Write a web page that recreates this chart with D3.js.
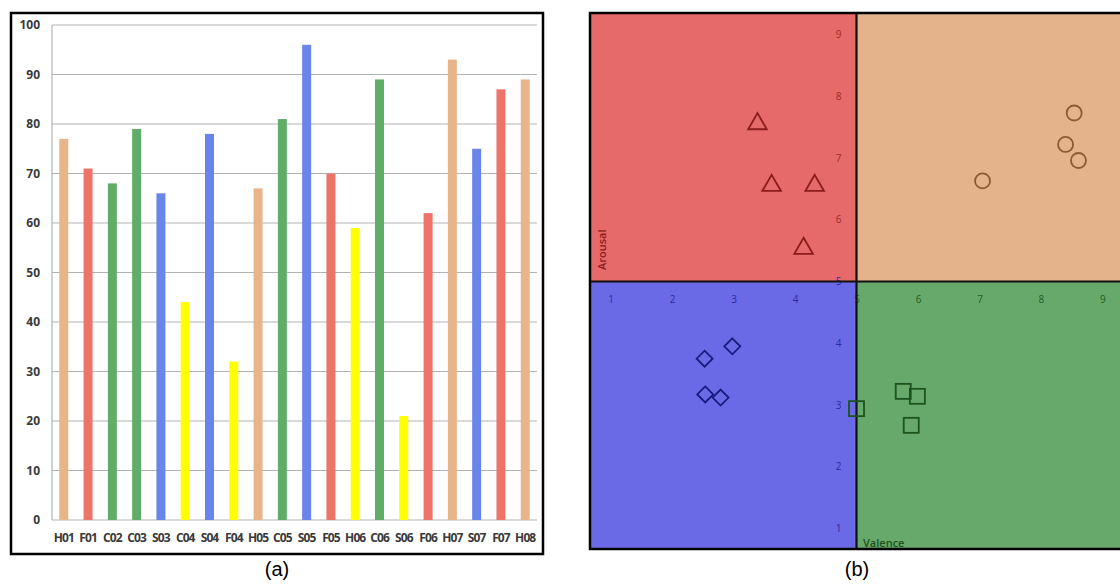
<!DOCTYPE html>
<html>
<head>
<meta charset="utf-8">
<script src="https://cdn.jsdelivr.net/npm/d3@7"></script>
<style>
    body { margin: 0; background: #fff; }
    svg { display: block; }
</style>
</head>
<body>
<div id="my_chart"></div>
<script>
// (a) bar chart data
var participants = ["H01", "F01", "C02", "C03", "S03", "C04", "S04", "F04", "H05", "C05",
    "S05", "F05", "H06", "C06", "S06", "F06", "H07", "S07", "F07", "H08"];
var scores = [77, 71, 68, 79, 66, 44, 78, 32, 67, 81, 96, 70, 59, 89, 21, 62, 93, 75, 87, 89];
var barColors = ["#e8b48a", "#ee746a", "#5fad68", "#5fad68", "#6a85ea", "#ffff00", "#6a85ea", "#ffff00", "#e8b48a", "#5fad68",
    "#6a85ea", "#ee746a", "#ffff00", "#5fad68", "#ffff00", "#ee746a", "#e8b48a", "#6a85ea", "#ee746a", "#e8b48a"];
var yTicksBar = [0, 10, 20, 30, 40, 50, 60, 70, 80, 90, 100];

// (b) valence / arousal points
var triValence = [3.39, 3.62, 4.32, 4.14];
var triArousal = [7.57, 6.57, 6.57, 5.55];
var circValence = [8.54, 8.40, 8.61, 7.05];
var circArousal = [7.73, 7.22, 6.96, 6.63];
var diaValence = [2.98, 2.53, 2.54, 2.79];
var diaArousal = [3.95, 3.75, 3.17, 3.12];
var sqValence = [5.76, 5.99, 5.89, 5.0];
var sqArousal = [3.22, 3.14, 2.67, 2.94];
var vaTicks = [1, 2, 3, 4, 5, 6, 7, 8, 9];

var svg = d3.select("#my_chart")
    .append("svg")
    .attr("width", 1120)
    .attr("height", 584);

drawBars();
drawQuadrants();

svg.append("text").attr("x", 277).attr("y", 576)
    .attr("text-anchor", "middle")
    .style("font-family", "'Liberation Sans', Arial, sans-serif")
    .style("font-size", "20px")
    .text("(a)");
svg.append("text").attr("x", 857).attr("y", 576)
    .attr("text-anchor", "middle")
    .style("font-family", "'Liberation Sans', Arial, sans-serif")
    .style("font-size", "20px")
    .text("(b)");

function drawBars() {
    var xscale = d3.scaleBand()
        .range([52, 537])
        .domain(participants)
        .paddingInner(0.63)
        .paddingOuter(0.3);
    var yscale = d3.scaleLinear()
        .domain([0, 100])
        .range([520, 25]);

    // gridlines
    svg.append("g")
        .selectAll("line")
        .data(yTicksBar)
        .enter()
        .append("line")
        .attr("x1", 52)
        .attr("x2", 537)
        .attr("y1", d => yscale(d))
        .attr("y2", d => yscale(d))
        .attr("stroke", "#b3b3b3")
        .attr("stroke-width", 1.2);

    svg.append("line")
        .attr("x1", 52).attr("x2", 52)
        .attr("y1", yscale(100)).attr("y2", yscale(0))
        .attr("stroke", "#b3b3b3")
        .attr("stroke-width", 1.2);

    var yAxis = svg.append("g")
        .attr("transform", "translate(40,0)")
        .call(d3.axisLeft(yscale).tickValues(yTicksBar).tickSize(0).tickPadding(0));
    yAxis.select(".domain").remove();
    yAxis.selectAll("text")
        .attr("dy", "0.55em")
        .attr("y", -3)
        .style("font-family", "'Open Sans', sans-serif")
        .style("font-weight", "700")
        .style("font-size", "12px")
        .attr("fill", "#3a3a3a");

    svg.append("g")
        .selectAll("rect")
        .data(scores)
        .enter()
        .append("rect")
        .attr("x", (d, i) => xscale(participants[i]))
        .attr("y", d => yscale(d))
        .attr("width", xscale.bandwidth())
        .attr("height", d => yscale(0) - yscale(d))
        .attr("fill", (d, i) => barColors[i]);

    var xAxis = svg.append("g")
        .attr("transform", "translate(0,520)")
        .call(d3.axisBottom(xscale).tickSize(0).tickPadding(13));
    xAxis.select(".domain").remove();
    xAxis.selectAll("text")
        .style("font-family", "'Open Sans', sans-serif")
        .style("font-weight", "700")
        .style("font-size", "12px")
        .style("letter-spacing", "-0.9px")
        .attr("fill", "#3a3a3a");

    // frame
    svg.append("rect")
        .attr("x", 11).attr("y", 13)
        .attr("width", 532).attr("height", 541)
        .attr("fill", "none")
        .attr("stroke", "#000")
        .attr("stroke-width", 2.5);
}

function drawQuadrants() {
    var xs = d3.scaleLinear().domain([0.65, 9.35]).range([589, 1124]);
    var ys = d3.scaleLinear().domain([0.65, 9.35]).range([550, 13]);

    var quads = [
        { x0: 0.65, x1: 5, y0: 5, y1: 9.35, c: "#e56a69" },
        { x0: 5, x1: 9.35, y0: 5, y1: 9.35, c: "#e4b28b" },
        { x0: 0.65, x1: 5, y0: 0.65, y1: 5, c: "#6b6ae6" },
        { x0: 5, x1: 9.35, y0: 0.65, y1: 5, c: "#67a96b" }
    ];
    svg.append("g")
        .selectAll("rect")
        .data(quads)
        .enter()
        .append("rect")
        .attr("x", d => xs(d.x0))
        .attr("y", d => ys(d.y1))
        .attr("width", d => xs(d.x1) - xs(d.x0))
        .attr("height", d => ys(d.y0) - ys(d.y1))
        .attr("fill", d => d.c);

    // tick labels sit on the midlines
    var xAx = svg.append("g")
        .attr("transform", "translate(0," + ys(5) + ")")
        .call(d3.axisBottom(xs).tickValues(vaTicks).tickSize(0).tickPadding(14));
    xAx.select(".domain").remove();
    xAx.selectAll("text")
        .style("font-family", "'Open Sans', sans-serif")
        .style("font-size", "10px")
        .attr("fill", d => d < 5 ? "#2a2a9a" : "#1e5e26");

    var yAx = svg.append("g")
        .attr("transform", "translate(" + xs(5) + ",0)")
        .call(d3.axisLeft(ys).tickValues(vaTicks).tickSize(0).tickPadding(15));
    yAx.select(".domain").remove();
    yAx.selectAll("text")
        .style("font-family", "'Open Sans', sans-serif")
        .style("font-size", "10px")
        .attr("fill", d => d > 5 ? "#9e2a2a" : "#2a2a9a");

    svg.append("line")
        .attr("x1", xs(5)).attr("x2", xs(5))
        .attr("y1", ys(9.35)).attr("y2", ys(0.65))
        .attr("stroke", "#111").attr("stroke-width", 2.2);
    svg.append("line")
        .attr("x1", xs(0.65)).attr("x2", xs(9.35))
        .attr("y1", ys(5)).attr("y2", ys(5))
        .attr("stroke", "#111").attr("stroke-width", 2.2);

    // markers
    var tri = d3.symbol().type(d3.symbolTriangle).size(150);
    svg.append("g")
        .selectAll("path")
        .data(triValence)
        .enter()
        .append("path")
        .attr("d", tri)
        .attr("transform", (d, i) => "translate(" + xs(d) + "," + (ys(triArousal[i]) + 1) + ")")
        .attr("fill", "none")
        .attr("stroke", "#8a1c1c")
        .attr("stroke-width", 1.8);

    svg.append("g")
        .selectAll("circle")
        .data(circValence)
        .enter()
        .append("circle")
        .attr("cx", d => xs(d))
        .attr("cy", (d, i) => ys(circArousal[i]))
        .attr("r", 7.5)
        .attr("fill", "none")
        .attr("stroke", "#8d5a32")
        .attr("stroke-width", 1.8);

    svg.append("g")
        .selectAll("path")
        .data(diaValence)
        .enter()
        .append("path")
        .attr("d", "M0,-8L8,0L0,8L-8,0Z")
        .attr("transform", (d, i) => "translate(" + xs(d) + "," + ys(diaArousal[i]) + ")")
        .attr("fill", "none")
        .attr("stroke", "#1a1a7e")
        .attr("stroke-width", 1.8);

    svg.append("g")
        .selectAll("rect")
        .data(sqValence)
        .enter()
        .append("rect")
        .attr("x", d => xs(d) - 7.5)
        .attr("y", (d, i) => ys(sqArousal[i]) - 7.5)
        .attr("width", 15)
        .attr("height", 15)
        .attr("fill", "none")
        .attr("stroke", "#1c531f")
        .attr("stroke-width", 1.8);

    svg.append("text")
        .attr("transform", "translate(606,270)rotate(-90)")
        .style("font-family", "'Open Sans', sans-serif")
        .style("font-weight", "600")
        .style("font-size", "11px")
        .attr("fill", "#8a1c1c")
        .text("Arousal");
    svg.append("text")
        .attr("x", 863).attr("y", 547)
        .style("font-family", "'Open Sans', sans-serif")
        .style("font-weight", "600")
        .style("font-size", "11px")
        .attr("fill", "#1c531f")
        .text("Valence");

    svg.append("rect")
        .attr("x", 590).attr("y", 13)
        .attr("width", 540).attr("height", 536)
        .attr("fill", "none")
        .attr("stroke", "#000")
        .attr("stroke-width", 2.5);
}
</script>
</body>
</html>
